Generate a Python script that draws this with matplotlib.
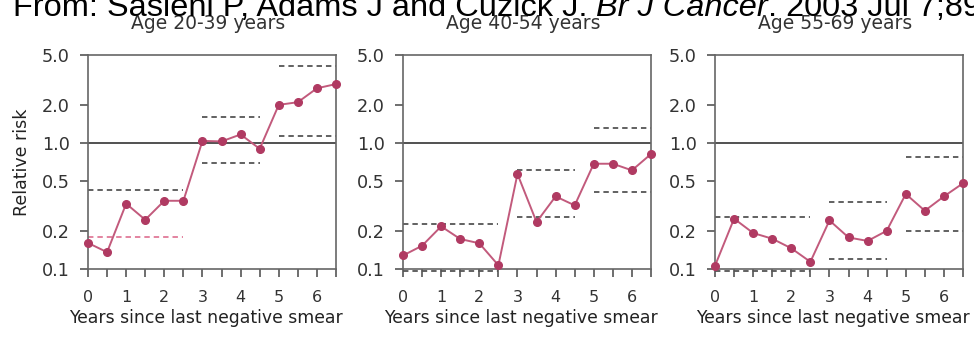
import numpy as np
import matplotlib
matplotlib.use("Agg")
import matplotlib.pyplot as plt

plt.rcParams['font.family'] = ['DejaVu Sans']

# half-year intervals since last negative smear
years = [0, 0.5, 1, 1.5, 2, 2.5, 3, 3.5, 4, 4.5, 5, 5.5, 6, 6.5]

titles = ["Age 20-39 years", "Age 40-54 years", "Age 55-69 years"]

rr_20_39 = [0.161, 0.136, 0.330, 0.246, 0.348, 0.348, 1.04, 1.03, 1.17, 0.90, 2.01, 2.11, 2.72, 2.94]
rr_40_54 = [0.128, 0.153, 0.218, 0.173, 0.160, 0.107, 0.568, 0.236, 0.377, 0.320, 0.685, 0.685, 0.607, 0.818]
rr_55_69 = [0.106, 0.251, 0.193, 0.174, 0.146, 0.114, 0.243, 0.178, 0.167, 0.201, 0.394, 0.290, 0.377, 0.479]

# confidence limits (dashed), one pair per block
blocks = [(0, 2.5), (3, 4.5), (5, 6.5)]
ci_upper = [[0.426, 1.61, 4.06], [0.228, 0.614, 1.315], [0.259, 0.340, 0.769]]
ci_lower = [[0.178, 0.694, 1.14], [0.096, 0.257, 0.408], [0.096, 0.119, 0.199]]

series = [rr_20_39, rr_40_54, rr_55_69]

fig = plt.figure(figsize=(9.74, 3.37), dpi=100)
W, H = 974, 337
lefts = [88, 403, 715]
width = 248
top, bottom = 55, 269

point_col = "#b03a62"

for i in range(3):
    ax = fig.add_axes([lefts[i] / W, 1 - bottom / H, width / W, (bottom - top) / H])
    ax.set_yscale('log')
    ax.set_ylim(0.1, 5.0)
    ax.set_xlim(0, 6.5)

    ax.axhline(1.0, color="#333333", lw=1.2)
    for b, (x0, x1) in enumerate(blocks):
        lo_col = "#e07a98" if (i == 0 and b == 0) else "#555555"
        ax.plot([x0, x1], [ci_upper[i][b]] * 2, ls=(0, (3, 2.2)), color="#555555", lw=1.3)
        ax.plot([x0, x1], [ci_lower[i][b]] * 2, ls=(0, (3, 2.2)), color=lo_col, lw=1.3,
                clip_on=False)
    ax.plot(years, series[i], color="#c25a7c", lw=1.4, marker='o', ms=5.5,
            mfc=point_col, mec=point_col, clip_on=False, zorder=5)

    ax.set_yticks([0.1, 0.2, 0.5, 1.0, 2.0, 5.0])
    ax.set_yticklabels(["0.1", "0.2", "0.5", "1.0", "2.0", "5.0"])
    ax.minorticks_off()
    ax.set_xticks(years)
    ax.set_xticklabels([str(int(y)) if y == int(y) else "" for y in years])
    ax.tick_params(axis='both', direction='out', length=6, width=1.2, color="#555555",
                   labelcolor="#333333")
    ax.tick_params(axis='y', pad=7, labelsize=12.7)
    ax.tick_params(axis='x', pad=9, labelsize=11.5)
    for s in ax.spines.values():
        s.set_color("#666666")
        s.set_linewidth(1.2)

    ax.set_xlabel("Years since last negative smear", fontsize=12.4, color="#222222")
    ax.xaxis.set_label_coords(0.5 - 6 / width, -54 / (bottom - top))
    ax.xaxis.label.set_va('baseline')
    if i == 0:
        ax.set_ylabel("Relative risk", fontsize=12.5, color="#222222", labelpad=8)
    cx = (lefts[i] + width / 2 - 4) / W
    fig.text(cx, 1 - 29 / H, titles[i], ha='center', va='baseline', fontsize=13.5,
             color="#333333")

# header citation, partly cut off at the top; sized so "...Jul 7;89" reaches the right edge
fig.canvas.draw()
r = fig.canvas.get_renderer()
parts = [("From: Sasieni P, Adams J and Cuzick J. ", 'normal'),
         ("Br J Cancer", 'italic'),
         (". 2003 Jul 7;89(1):88-93.", 'normal')]
hfam = ['Liberation Sans', 'DejaVu Sans']
probe = [fig.text(0, 0, txt, fontsize=20, style=st, family=hfam) for txt, st in parts[:2]]
probe.append(fig.text(0, 0, ". 2003 Jul 7;8", fontsize=20, family=hfam))
total = sum(p.get_window_extent(renderer=r).width for p in probe)
for p in probe:
    p.remove()
hsize = 20 * (961 - 13) / total

x = 13
for txt, style in parts:
    t = fig.text(x / W, 1 - 16 / H, txt, ha='left', va='baseline', fontsize=hsize,
                 style=style, color="black", family=hfam)
    bb = t.get_window_extent(renderer=r)
    x += bb.width

fig.savefig("out.png", dpi=100)
